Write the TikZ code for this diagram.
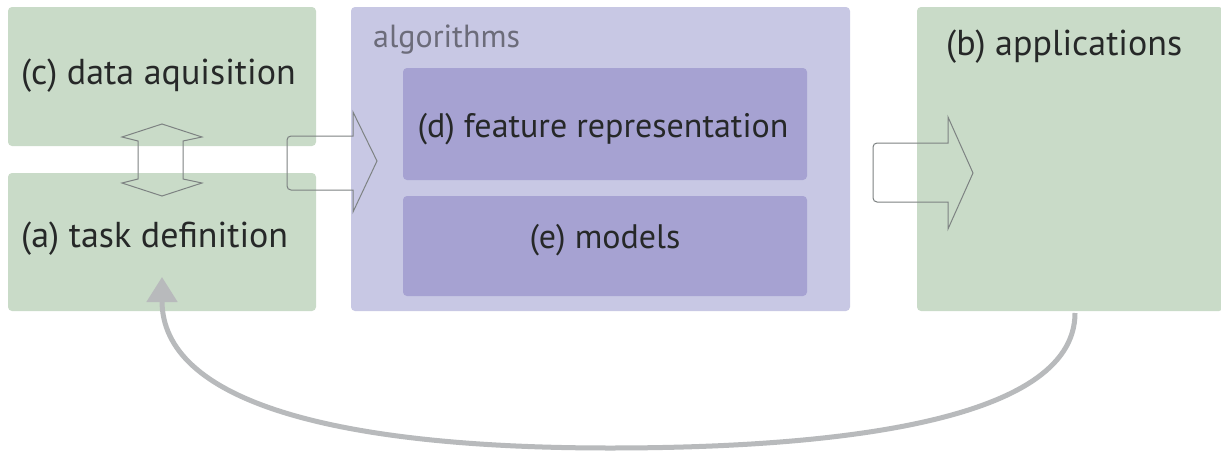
\documentclass[tikz,border=0pt]{standalone}
\usepackage{fontspec}
\setmainfont{PT Sans}
\usetikzlibrary{arrows.meta}
\definecolor{boxgreen}{RGB}{201,219,200}
\definecolor{outerpurple}{RGB}{200,200,228}
\definecolor{innerpurple}{RGB}{166,162,210}
\definecolor{txt}{RGB}{38,40,40}
\definecolor{algtxt}{RGB}{108,108,122}
\definecolor{arrline}{RGB}{125,130,130}
\definecolor{loopgray}{RGB}{184,186,188}
\begin{document}
\begin{tikzpicture}[x=1pt,y=-1pt,
  panel/.style={fill=#1, draw=none, rounded corners=4pt, anchor=north west, inner sep=0pt, outer sep=0pt},
  lbl/.style={inner sep=0pt, text=txt, font=\fontsize{36}{40}\selectfont},
  inlbl/.style={inner sep=0pt, text=txt, font=\fontsize{34}{40}\selectfont},
  alglbl/.style={inner sep=0pt, text=algtxt, font=\fontsize{32}{36}\selectfont},
  blockarrow/.style={draw=arrline, line width=1pt, fill=none, line join=miter},
  loopline/.style={draw=loopgray, line width=5pt, -{Triangle[length=25pt,width=30pt]}}]
\useasboundingbox (0,0) rectangle (1221,455);
\fill[white] (0,0) rectangle (1221,455);
% panels
\node[panel=boxgreen, minimum width=308pt, minimum height=139pt] (c) at (8,7) {};
\node[panel=boxgreen, minimum width=308pt, minimum height=138pt] (a) at (8,173) {};
\node[panel=outerpurple, minimum width=499pt, minimum height=304pt] (alg) at (351,7) {};
\node[panel=innerpurple, minimum width=404pt, minimum height=112pt] (d) at (403,68) {};
\node[panel=innerpurple, minimum width=404pt, minimum height=100pt] (e) at (403,196) {};
\node[panel=boxgreen, minimum width=306pt, minimum height=304pt] (b) at (917,7) {};
% labels
\node[lbl, anchor=base west] (tc) at (21,84) {(c) data aquisition};
\node[lbl, anchor=base west] (ta) at (21,247) {(a) task definition};
\node[lbl, anchor=base west] (tb) at (946,55) {(b) applications};
\node[alglbl, anchor=base west] (talg) at (373,47) {algorithms};
\node[inlbl, anchor=base] (td) at (603,137) {(d) feature representation};
\node[inlbl, anchor=base] (te) at (605,248) {(e) models};
% double arrow between (c) and (a)
\draw[blockarrow] (162,124) -- (202,137) -- (183,141) -- (183,179) -- (202,183) -- (162,196)
  -- (122,183) -- (138,179) -- (138,141) -- (122,137) -- cycle;
% block arrow to algorithms
\draw[blockarrow] (353,136) -- (353,112) -- (377,161) -- (353,212) -- (353,190)
  [rounded corners=4pt] -- (287,190) -- (287,136) [sharp corners] -- cycle;
% block arrow to applications
\draw[blockarrow] (948,143) -- (948,117) -- (973,173) -- (948,229) -- (948,202)
  [rounded corners=4pt] -- (873,202) -- (873,143) [sharp corners] -- cycle;
% feedback loop
\coordinate (fbstart) at (1075,313);
\coordinate (fbend) at (162,277);
\draw[loopline] (fbstart) .. controls (1075,425) and (820,448) .. (610,448)
  .. controls (330,448) and (162,400) .. (fbend);
\end{tikzpicture}
\end{document}
